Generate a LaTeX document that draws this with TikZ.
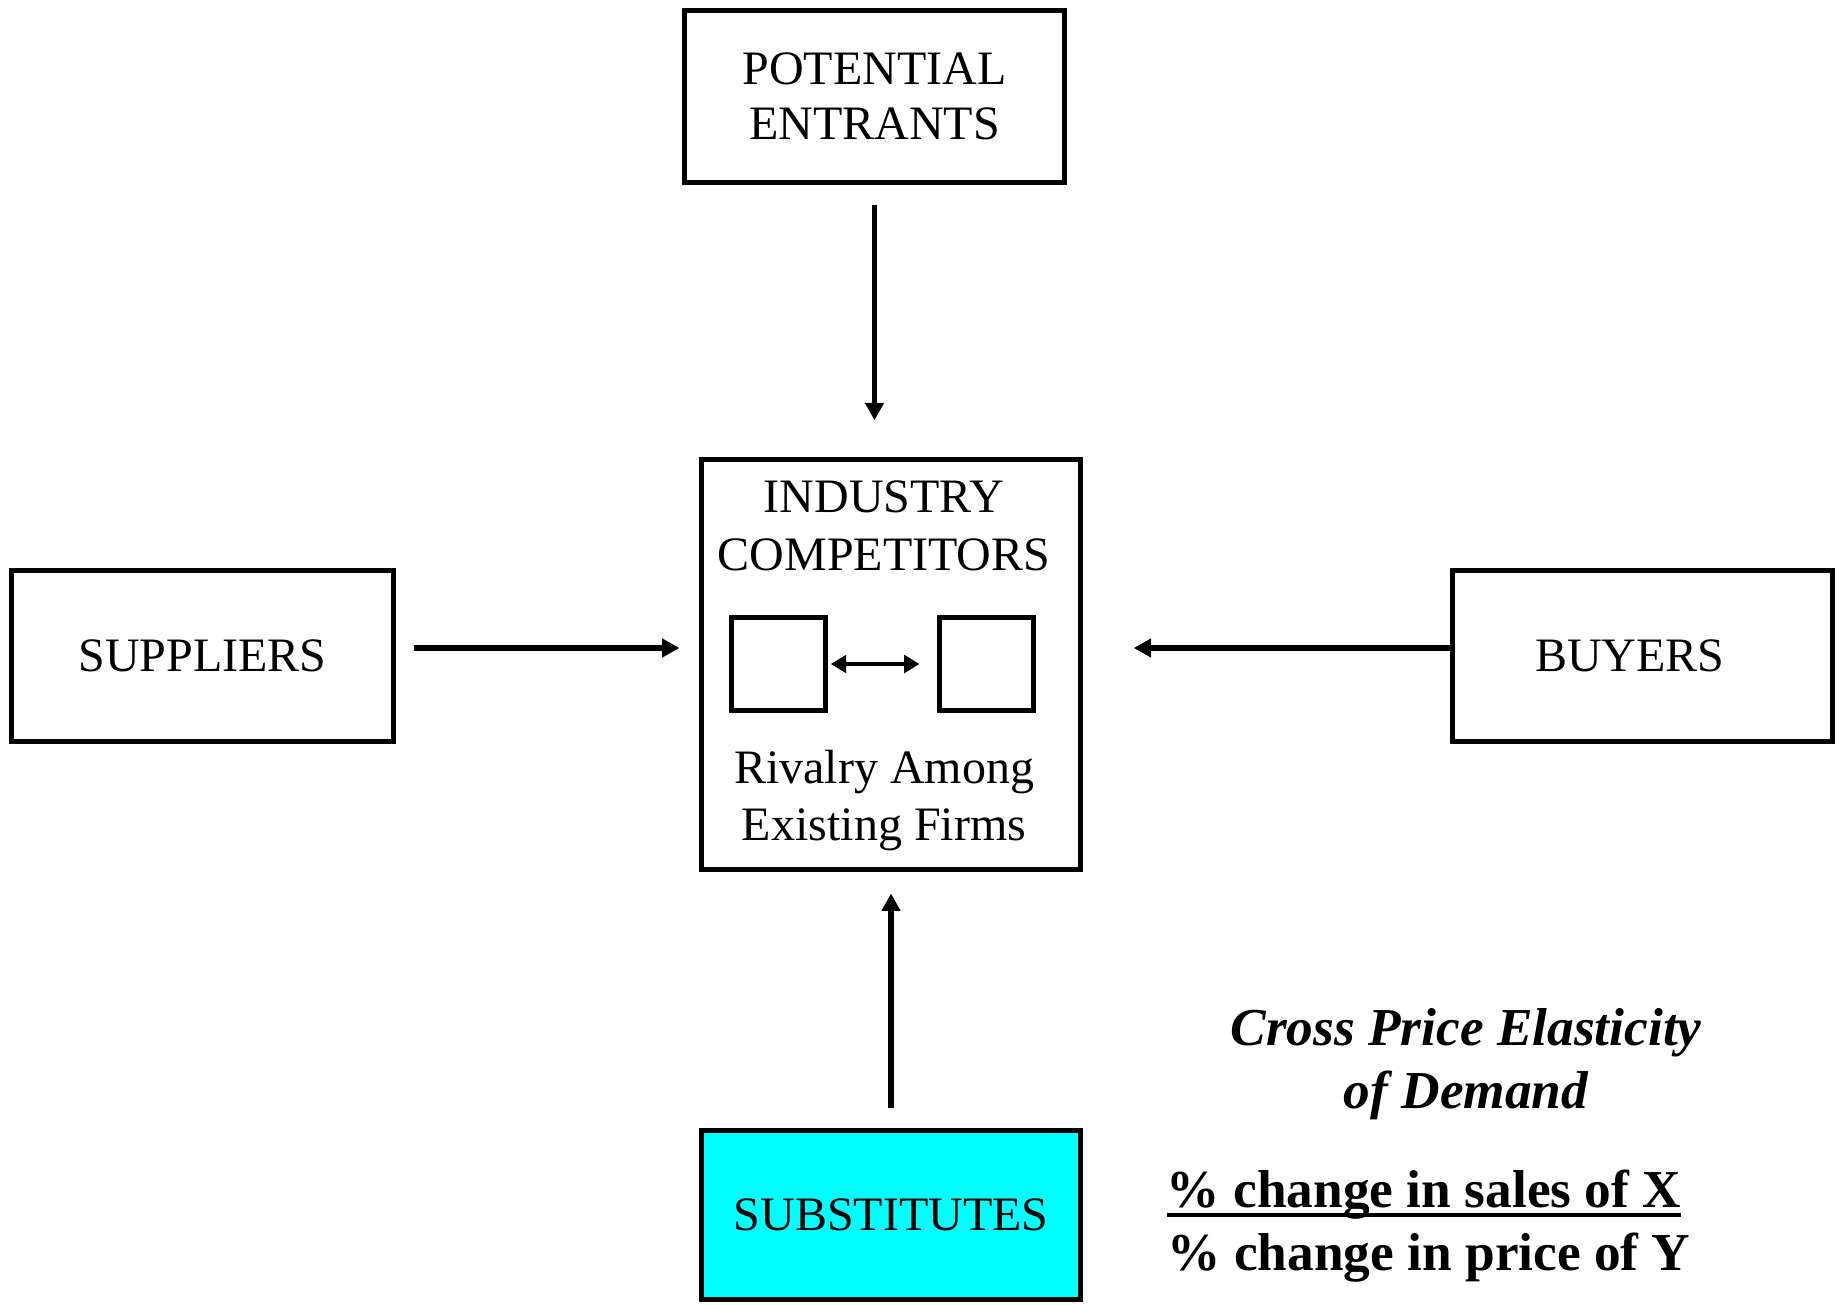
\documentclass[tikz,border=0pt]{standalone}
\usepackage{fontspec}
\setmainfont{Liberation Serif}
\usetikzlibrary{arrows.meta}
\definecolor{subcyan}{RGB}{0,255,255}
\begin{document}
\begin{tikzpicture}[x=0.75pt,y=-0.75pt,
  box/.style={draw,line width=4pt,inner sep=0pt,align=center,font=\fontsize{36}{42}\selectfont},
  firm/.style={draw,line width=3.9pt,inner sep=0pt,minimum width=70.5pt,minimum height=69.75pt},
  lbl/.style={anchor=base,inner sep=0pt,font=\fontsize{36}{42}\selectfont},
  eq/.style={anchor=base,inner sep=0pt,font=\fontsize{40}{47}\selectfont\bfseries},
  arr/.style={line width=3.9pt,-{Triangle[length=13pt,width=13.5pt]}},
  darr/.style={line width=3.5pt,{Triangle[length=11.5pt,width=13pt]}-{Triangle[length=11.5pt,width=13pt]}}]
\useasboundingbox (0,0) rectangle (1841,1305);

\node[box,minimum width=285pt,minimum height=129pt] (pot) at (874.5,96.5) {POTENTIAL\\[-1pt]ENTRANTS};
\node[draw,line width=4pt,inner sep=0pt,minimum width=284.25pt,minimum height=307.5pt] (ind) at (891,664.5) {};
\node[box,minimum width=286.5pt,minimum height=128.25pt] (sup) at (202.5,656) {SUPPLIERS};
\node[box,minimum width=285pt,minimum height=128.25pt] (buy) at (1642.5,656) {BUYERS\hspace*{19pt}};
\node[box,fill=subcyan,minimum width=284.25pt,minimum height=126.75pt] (sub) at (891,1215) {SUBSTITUTES};

\node[lbl] (ind1) at (884,512) {INDUSTRY};
\node[lbl] (ind2) at (884,570) {COMPETITORS};
\node[lbl] (riv1) at (884,783) {Rivalry Among};
\node[lbl] (riv2) at (884,840) {Existing Firms};

\node[firm] (sq1) at (778.5,664) {};
\node[firm] (sq2) at (986.5,664) {};

\draw[arr,shorten <=14.6pt,shorten >=27.4pt] (pot.south) -- (pot.south |- ind.north);
\draw[arr,shorten <=13pt,shorten >=14.6pt] ([yshift=6pt]sup.east) -- ([yshift=6pt]sup.east -| ind.west);
\draw[arr,shorten >=37.9pt] ([yshift=6pt]buy.west) -- ([yshift=6pt]buy.west -| ind.east);
\draw[arr,shorten <=14.6pt,shorten >=16pt] (sub.north) -- (sub.north |- ind.south);
\draw[darr,shorten <=2pt,shorten >=13pt] (sq1.east) -- (sq2.west);

\node[eq,font=\fontsize{40}{47}\selectfont\bfseries\itshape] (cpe1) at (1466,1045) {Cross Price Elasticity};
\node[eq,font=\fontsize{40}{47}\selectfont\bfseries\itshape] (cpe2) at (1466,1108) {of Demand};
\node[eq] (num) at (1424,1207) {\% change in sales of X};
\node[eq] (den) at (1429,1270) {\% change in price of Y};
\draw[line width=2.6pt] (num.base west |- 0,1215) -- (num.base east |- 0,1215);
\end{tikzpicture}
\end{document}
